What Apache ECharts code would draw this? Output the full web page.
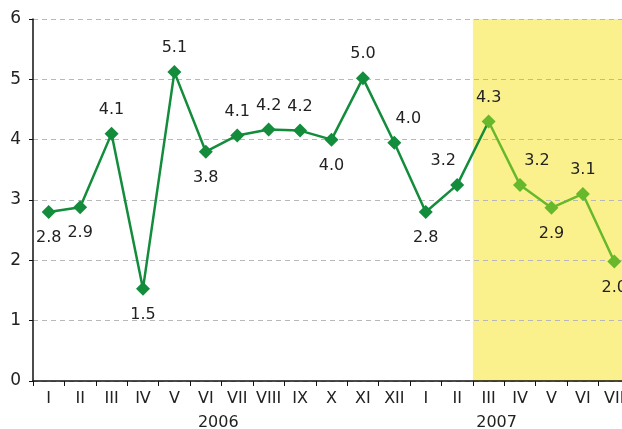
<!DOCTYPE html>
<html><head><meta charset="utf-8">
<script src="https://cdn.jsdelivr.net/npm/echarts@6/dist/echarts.min.js"></script>
<style>html,body{margin:0;padding:0;background:#fff}#c{width:622px;height:429px}</style>
</head><body><div id="c"></div>
<script>
var months = ['I','II','III','IV','V','VI','VII','VIII','IX','X','XI','XII','I','II','III','IV','V','VI','VII'];
var values = [2.8,2.88,4.1,1.53,5.12,3.8,4.07,4.17,4.15,4.0,5.02,3.95,2.8,3.25,4.3,3.25,2.87,3.1,1.98];
var valueLabels = ['2.8','2.9','4.1','1.5','5.1','3.8','4.1','4.2','4.2','4.0','5.0','4.0','2.8','3.2','4.3','3.2','2.9','3.1','2.0'];
var labelSide = ['bottom','bottom','top','bottom','top','bottom','top','top','top','bottom','top','top','bottom','top','top','top','bottom','top','bottom'];
var labelShift = [0,0,0,0,0,0,0,0,0,0,0,14,0,-14,0,17,0,0,0];
var highlightFrom = 14; // first month of the highlighted 2007 period
var bandTop = 6;
var yearLabels = {'6':'2006','14':'2007'};
var yearShift = {'6':-19,'14':8};

var bandStart = highlightFrom - 0.5, bandEnd = months.length - 0.5;
var lineData = values.map(function(v,i){
  return { value: v, label: { position: labelSide[i], offset: [labelShift[i],0],
    distance: labelSide[i]==='top' ? 9 : 11 } };
});

var font = 'DejaVu Sans';
var chart = echarts.init(document.getElementById('c'));
chart.setOption({
  animation: false,
  grid: { left: 33, width: 597, top: 19, bottom: 48, containLabel: false, outerBoundsMode: 'none' },
  xAxis: [{
    type: 'category', data: months, boundaryGap: true, position: 'bottom', z: 2,
    axisLine: { onZero: false, lineStyle: { color: '#111', width: 1.5 } },
    axisTick: { show: true, length: 5, lineStyle: { color: '#111' } },
    axisLabel: { color: '#222', fontSize: 16, fontFamily: font, margin: 10, interval: 0 },
    splitLine: { show: false }
  },{
    type: 'category', data: months, boundaryGap: true, position: 'bottom', offset: 26,
    axisLine: { show: false, onZero: false }, axisTick: { show: false }, splitLine: { show: false },
    axisLabel: { interval: 0, color: '#222', fontSize: 16, fontFamily: font,
      formatter: function(v, i){
        var t = yearLabels[i]; if (!t) return '';
        var s = yearShift[i];
        return s < 0 ? '{a|' + t + '}' : '{b|' + t + '}';
      },
      rich: { a: { fontSize: 16, fontFamily: font, color: '#222', padding: [0,38,0,0] },
              b: { fontSize: 16, fontFamily: font, color: '#222', padding: [0,0,0,16] } }
    }
  },{
    type: 'value', min: -0.5, max: months.length - 0.5, show: false, position: 'top',
    axisLine: { onZero: false }
  }],
  yAxis: {
    type: 'value', min: 0, max: 6, interval: 1, z: 2, position: 'left',
    axisLine: { show: true, onZero: false, lineStyle: { color: '#111', width: 1.5 } },
    axisTick: { show: true, length: 4, lineStyle: { color: '#111' } },
    axisLabel: { color: '#222', fontSize: 17, fontFamily: font, margin: 12 },
    splitLine: { lineStyle: { type: [5,4], color: '#b8b8b8' } }
  },
  visualMap: {
    show: false, type: 'piecewise', dimension: 0, seriesIndex: 1,
    pieces: [{ min: -1, max: highlightFrom - 0.5, color: '#138c3c' }, { min: highlightFrom - 0.5, max: 30, color: '#68b82b' }]
  },
  series: [{
    type: 'line', xAxisIndex: 2, data: [[bandStart, 0]], showSymbol: false, silent: true, z: 1,
    lineStyle: { opacity: 0 },
    markArea: { silent: true, itemStyle: { color: '#faf18c' },
      data: [[{ xAxis: bandStart, yAxis: 0 }, { xAxis: bandEnd, yAxis: bandTop }]] }
  },{
    type: 'line', data: lineData, symbol: 'diamond', symbolSize: 14,
    lineStyle: { width: 2.5 }, z: 5,
    label: { show: true, color: '#222', fontSize: 16, fontFamily: font,
      formatter: function(p){ return valueLabels[p.dataIndex]; } }
  }]
});
</script></body></html>
